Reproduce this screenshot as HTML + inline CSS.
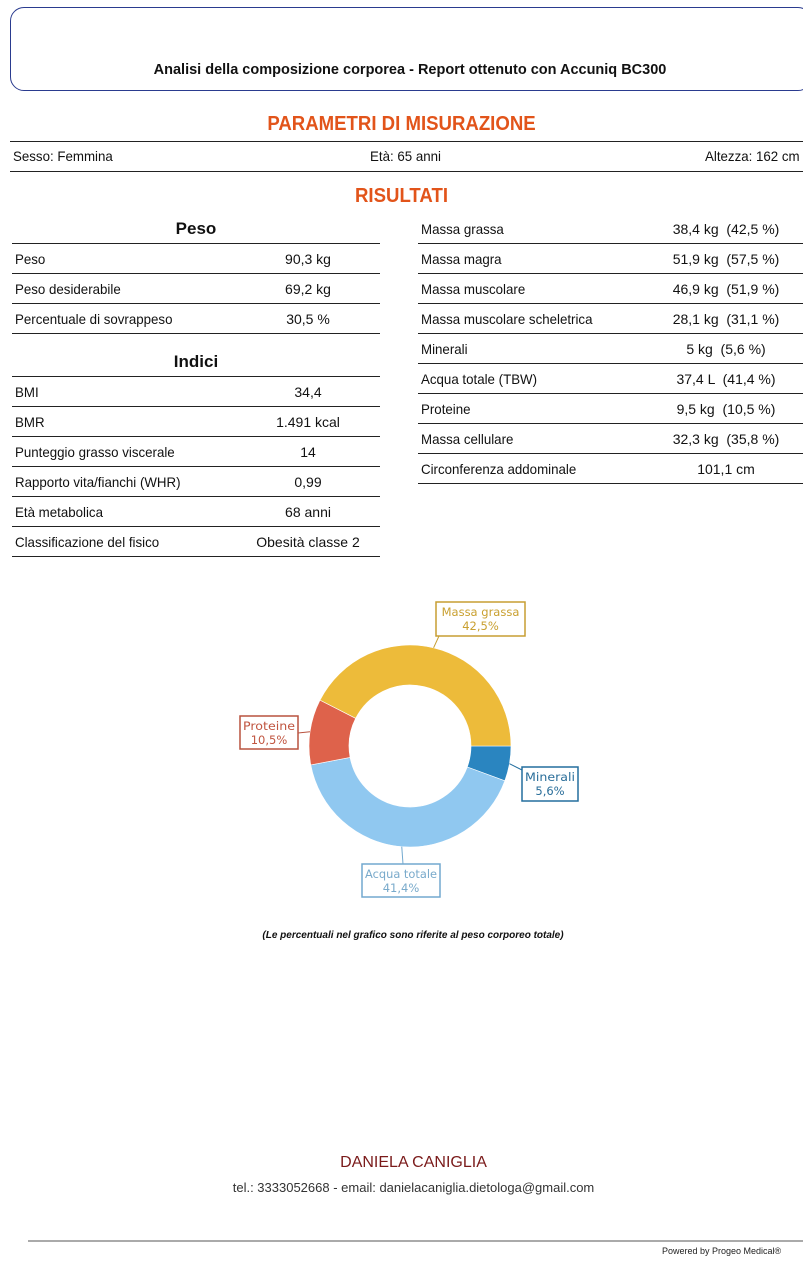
<!DOCTYPE html>
<html><head><meta charset="utf-8">
<style>
body{margin:0;width:803px;height:1275px;overflow:hidden;background:#fff;font-family:"Liberation Sans",sans-serif;position:relative;color:#111}
.a{position:absolute;white-space:nowrap}
.t{font-size:14px;transform:scaleX(0.95);transform-origin:left}
.line{position:absolute;height:1px;background:#222}
.h{font-weight:bold;color:#E2541A;font-size:20px;text-align:center;width:803px;left:0;transform:scaleX(0.93)}
</style></head><body>
<div class="a" style="left:10px;top:7px;width:800px;height:82px;border:1.5px solid #2a3b8f;border-radius:14px"></div>
<div class="a" style="left:0;width:820px;text-align:center;top:62px;font-size:14.5px;font-weight:bold">Analisi della composizione corporea - Report ottenuto con Accuniq BC300</div>
<div class="a h" style="top:113px">PARAMETRI DI MISURAZIONE</div>
<div class="line" style="left:10px;top:141px;width:793px"></div>
<div class="a t" style="left:13px;top:148px">Sesso: Femmina</div>
<div class="a t" style="left:370px;top:148px">Età: 65 anni</div>
<div class="a t" style="left:705px;top:148px">Altezza: 162 cm</div>
<div class="line" style="left:10px;top:171px;width:793px"></div>
<div class="a h" style="top:185px">RISULTATI</div>
<div id="tables"></div>
<svg class="a" style="left:0;top:0" width="803" height="1275" id="chart"></svg>
<div class="a" style="left:0;width:826px;text-align:center;top:930px;font-size:10px;font-weight:bold;font-style:italic">(Le percentuali nel grafico sono riferite al peso corporeo totale)</div>
<div class="a" style="left:0;width:827px;text-align:center;top:1154px;font-size:16px;color:#7a1a1a">DANIELA CANIGLIA</div>
<div class="a" style="left:0;width:827px;text-align:center;top:1180px;font-size:13px;color:#333">tel.: 3333052668 - email: danielacaniglia.dietologa@gmail.com</div>
<div class="line" style="left:28px;top:1240px;width:775px;background:#aaa;height:1.5px"></div>
<div class="a" style="left:662px;top:1246px;font-size:9px;color:#222">Powered by Progeo Medical®</div>
<script>
const leftRows=[["Peso","90,3 kg"],["Peso desiderabile","69,2 kg"],["Percentuale di sovrappeso","30,5 %"]];
const indiciRows=[["BMI","34,4"],["BMR","1.491 kcal"],["Punteggio grasso viscerale","14"],["Rapporto vita/fianchi (WHR)","0,99"],["Età metabolica","68 anni"],["Classificazione del fisico","Obesità classe 2"]];
const rightRows=[["Massa grassa","38,4 kg  (42,5 %)"],["Massa magra","51,9 kg  (57,5 %)"],["Massa muscolare","46,9 kg  (51,9 %)"],["Massa muscolare scheletrica","28,1 kg  (31,1 %)"],["Minerali","5 kg  (5,6 %)"],["Acqua totale (TBW)","37,4 L  (41,4 %)"],["Proteine","9,5 kg  (10,5 %)"],["Massa cellulare","32,3 kg  (35,8 %)"],["Circonferenza addominale","101,1 cm"]];
const T=document.getElementById('tables');
function add(html){T.insertAdjacentHTML('beforeend',html);}
function rows(arr,x,w,valC,top,name){arr.forEach((r,i)=>{const y=top+i*30;
add(`<div class="a t" style="left:${x+3}px;top:${y+7}px">${r[0]}</div><div class="a" style="left:${valC-80}px;width:160px;text-align:center;top:${y+7}px;font-size:14px;white-space:pre">${r[1]}</div><div class="line" style="left:${x}px;top:${y+29}px;width:${w}px"></div>`);});}
add(`<div class="a" style="left:12px;width:368px;text-align:center;top:219px;font-size:17px;font-weight:bold">Peso</div><div class="line" style="left:12px;top:243px;width:368px"></div>`);
rows(leftRows,12,368,308,244,'peso');
add(`<div class="a" style="left:12px;width:368px;text-align:center;top:352px;font-size:17px;font-weight:bold">Indici</div><div class="line" style="left:12px;top:376px;width:368px"></div>`);
rows(indiciRows,12,368,308,377,'indici');
rows(rightRows,418,385,726,214,'risultati');

const cats=["Minerali","Acqua totale","Proteine","Massa grassa"];
const vals=[5.6,41.4,10.5,42.5];
const labels=["5,6%","41,4%","10,5%","42,5%"];
const colors=["#2A85C0","#90C8F0","#DE624B","#EDBB3A"];
const stroke=["#236E9E","#72A9CF","#B9523F","#C79E32"];
const txtC=["#2A6E9A","#79AACB","#C05540","#C9A030"];
// label box layout (styling, not data): x,y,w,h and leader end point
const boxLayout=[[522,767,56,34,522,770],[362,864,78,33,403,864],[240,716,58,33,298,733],[436,602,89,34,439,636]];
const cx=410,cy=746,R=101,r=61;
const svg=document.getElementById('chart');const NS='http://www.w3.org/2000/svg';
const tot=vals.reduce((a,b)=>a+b,0);let a0=0;
function pt(a,rad){return [cx+rad*Math.cos(a),cy+rad*Math.sin(a)];}
vals.forEach((v,i)=>{const a1=a0+v/tot*2*Math.PI;const big=(a1-a0)>Math.PI?1:0;
const p1=pt(a0,R),p2=pt(a1,R),p3=pt(a1,r),p4=pt(a0,r);
const p=document.createElementNS(NS,'path');
p.setAttribute('d',`M${p1}A${R},${R} 0 ${big} 1 ${p2}L${p3}A${r},${r} 0 ${big} 0 ${p4}Z`);
p.setAttribute('fill',colors[i]);p.setAttribute('stroke','#fff');p.setAttribute('stroke-width','0.6');


svg.appendChild(p);
const mid=(a0+a1)/2;const e=pt(mid,R);const B=boxLayout[i];
const l=document.createElementNS(NS,'line');
l.setAttribute('x1',e[0]);l.setAttribute('y1',e[1]);l.setAttribute('x2',B[4]);l.setAttribute('y2',B[5]);l.setAttribute('stroke',stroke[i]);


svg.appendChild(l);
const rc=document.createElementNS(NS,'rect');
rc.setAttribute('x',B[0]);rc.setAttribute('y',B[1]);rc.setAttribute('width',B[2]);rc.setAttribute('height',B[3]);rc.setAttribute('fill','#fff');rc.setAttribute('stroke',stroke[i]);rc.setAttribute('stroke-width','1.5');


svg.appendChild(rc);
[cats[i],labels[i]].forEach((s,k)=>{const t=document.createElementNS(NS,'text');
t.setAttribute('x',B[0]+B[2]/2);t.setAttribute('y',B[1]+14+k*14);t.setAttribute('text-anchor','middle');t.setAttribute('font-size','11.5');t.setAttribute('font-family','DejaVu Sans, sans-serif');t.setAttribute('fill',txtC[i]);
if(s.length*6.8>B[2]-6){t.setAttribute('textLength',B[2]-6);t.setAttribute('lengthAdjust','spacingAndGlyphs');}
t.textContent=s;


svg.appendChild(t);});
a0=a1;});
</script>
</body></html>
